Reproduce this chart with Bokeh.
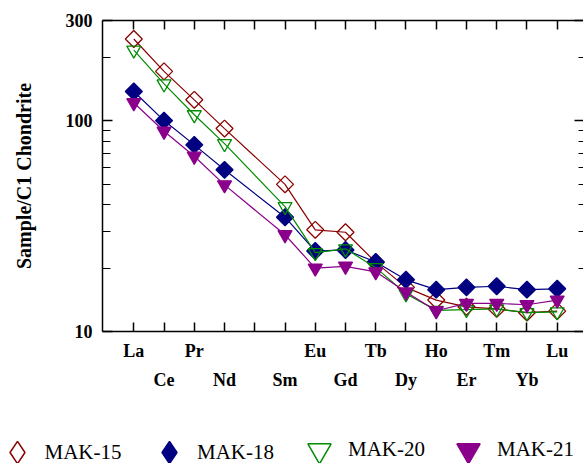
import math
from bokeh.plotting import figure
from bokeh.layouts import column, row
from bokeh.models import (Range1d, FixedTicker, LinearAxis, LogAxis, Legend,
                          LegendItem, ColumnDataSource)
from bokeh.embed import file_html
from bokeh.resources import INLINE

# ---- data (chondrite-normalised REE) ----
elements = ["La", "Ce", "Pr", "Nd", "Pm", "Sm", "Eu", "Gd", "Tb", "Dy",
            "Ho", "Er", "Tm", "Yb", "Lu"]
ree = ["La", "Ce", "Pr", "Nd", "Sm", "Eu", "Gd", "Tb", "Dy",
       "Ho", "Er", "Tm", "Yb", "Lu"]
mak15 = [245, 172, 126, 92, 50, 30.4, 29.6, 21.3, 16.2, 14.1, 13.1, 12.8, 12.3, 12.5]
mak18 = [138, 100.4, 77, 58.6, 34.9, 24.1, 24.4, 21.4, 17.6, 15.8, 16.2, 16.4, 15.8, 15.95]
mak20 = [217, 150, 107, 78, 39.2, 23.7, 24.7, 20.1, 15.1, 12.6, 12.7, 12.8, 12.3, 12.4]
mak21 = [122, 89.3, 68, 49.7, 28.8, 20.0, 20.4, 19.2, 15.4, 12.55, 13.6, 13.6, 13.4, 14.1]
samples = ["MAK-15", "MAK-18", "MAK-20", "MAK-21"]
y_major = [10, 100, 300]
y_minor = [20, 30, 40, 50, 60, 70, 80, 90, 200]

xpos = [elements.index(e) + 1 for e in ree]
src = ColumnDataSource(dict(x=xpos, s15=mak15, s18=mak18, s20=mak20, s21=mak21))

FONT = "Liberation Serif"

p = figure(width=583, height=420, x_range=Range1d(-0.035, 15.87),
           y_range=Range1d(10, 300), y_axis_type="log",
           output_backend="svg", toolbar_location=None,
           min_border_left=102, min_border_right=0, min_border_top=20,
           min_border_bottom=89)
p.outline_line_color = None
p.grid.visible = False
p.background_fill_color = "white"
p.border_fill_color = "white"

# bottom axis, first row of labels
all_ticks = list(range(1, 16))
odd_labels = {i: (elements[i - 1] if (i % 2 == 1 and elements[i - 1] != "Pm") else "")
              for i in all_ticks}
xa = p.xaxis[0]
xa.ticker = FixedTicker(ticks=all_ticks)
xa.major_label_overrides = odd_labels
xa.major_tick_in = 9
xa.major_tick_out = 0
xa.minor_tick_line_color = None
xa.axis_line_width = 1.5
xa.major_tick_line_width = 1.5
xa.major_label_standoff = 9
xa.major_label_text_font = FONT
xa.major_label_text_font_style = "bold"
xa.major_label_text_font_size = "18px"
xa.major_label_text_color = "black"

# bottom axis, second row of labels
even_ticks = [i for i in range(2, 16, 2)]
xa2 = LinearAxis(ticker=FixedTicker(ticks=even_ticks),
                 major_label_overrides={i: elements[i - 1] for i in even_ticks},
                 axis_line_color=None, major_tick_line_color=None,
                 minor_tick_line_color=None, major_tick_in=0, major_tick_out=0,
                 major_label_standoff=6, major_label_text_font=FONT,
                 major_label_text_font_style="bold",
                 major_label_text_font_size="18px",
                 major_label_text_color="black")
p.add_layout(xa2, "below")

# top axis (ticks only)
xt = LinearAxis(ticker=FixedTicker(ticks=all_ticks),
                major_label_overrides={i: "" for i in all_ticks},
                major_tick_in=9, major_tick_out=0, minor_tick_line_color=None,
                axis_line_width=1.5, major_tick_line_width=1.5,
                major_label_text_font_size="1px", major_label_standoff=0)
p.add_layout(xt, "above")

# left axis
ya = p.yaxis[0]
ya.ticker = FixedTicker(ticks=y_major, minor_ticks=y_minor)
ya.major_label_overrides = {v: str(v) for v in y_major}
ya.major_tick_in = 10
ya.major_tick_out = 0
ya.minor_tick_in = 8
ya.minor_tick_out = 0
ya.axis_line_width = 1.5
ya.major_tick_line_width = 1.5
ya.minor_tick_line_width = 1.2
ya.major_label_standoff = 10
ya.major_label_text_font = FONT
ya.major_label_text_font_style = "bold"
ya.major_label_text_font_size = "18px"
ya.major_label_text_color = "black"
ya.axis_label = "Sample/C1 Chondrite"
ya.axis_label_text_font = FONT
ya.axis_label_text_font_style = "bold"
ya.axis_label_text_font_size = "20px"
ya.axis_label_text_color = "black"
ya.axis_label_standoff = 28

# right axis (ticks only)
yr = LogAxis(ticker=FixedTicker(ticks=y_major, minor_ticks=y_minor),
             major_label_overrides={v: "" for v in y_major},
             major_tick_in=9, major_tick_out=0, minor_tick_in=5, minor_tick_out=0,
             axis_line_color=None, major_tick_line_width=1.5,
             minor_tick_line_width=1.2,
             major_label_text_font_size="1px", major_label_standoff=0)
p.add_layout(yr, "right")

# series
styles = [
    ("s15", "#8B0000", "square", None, 12, math.pi / 4),
    ("s18", "#000080", "square", "#000080", 12, math.pi / 4),
    ("s20", "#008B00", "inverted_triangle", None, 14, 0),
    ("s21", "#8B008B", "inverted_triangle", "#8B008B", 14, 0),
]
for col, color, marker, fill, size, ang in styles:
    p.line("x", col, source=src, line_color=color, line_width=1.2)
    p.scatter("x", col, source=src, marker=marker, size=size, angle=ang,
              line_color=color, fill_color=fill, line_width=1.3)

# ---- legend strip (separate figure so nothing is clipped) ----
lf = figure(width=583, height=43, x_range=Range1d(1000, 1001),
            y_range=Range1d(1000, 1001), output_backend="svg",
            toolbar_location=None, x_axis_location=None, y_axis_location=None,
            min_border_left=0, min_border_right=0, min_border_top=0,
            min_border_bottom=0)
lf.outline_line_color = None
lf.grid.visible = False
lf.border_fill_color = "white"
lf.background_fill_color = "white"

leg_cfg = [
    # marker for the legend, glyph box, x offset, y offset
    ("diamond", 56, -11.5, -17.0),
    ("diamond", 56, 141.0, -17.0),
    ("inverted_triangle", 58, 290.0, -15.5),
    ("inverted_triangle", 58, 439.0, -15.5),
]
for name, (col, color, marker, fill, size, ang), (lm, g, vx, vy) in zip(samples, styles, leg_cfg):
    lr = lf.scatter("x", col, source=src, marker=lm, size=size,
                    line_color=color, fill_color=fill, line_width=1.5)
    lg = Legend(items=[LegendItem(label=name, renderers=[lr])],
                location=(vx, vy), orientation="horizontal",
                glyph_width=g, glyph_height=g, label_standoff=0,
                padding=0, margin=0, spacing=0, border_line_color=None,
                background_fill_alpha=0, label_text_font=FONT,
                label_text_font_size="21px", label_text_color="black")
    lf.add_layout(lg, "center")

layout = column(p, row(lf), spacing=0)
open("out.html", "w").write(file_html(layout, INLINE))
